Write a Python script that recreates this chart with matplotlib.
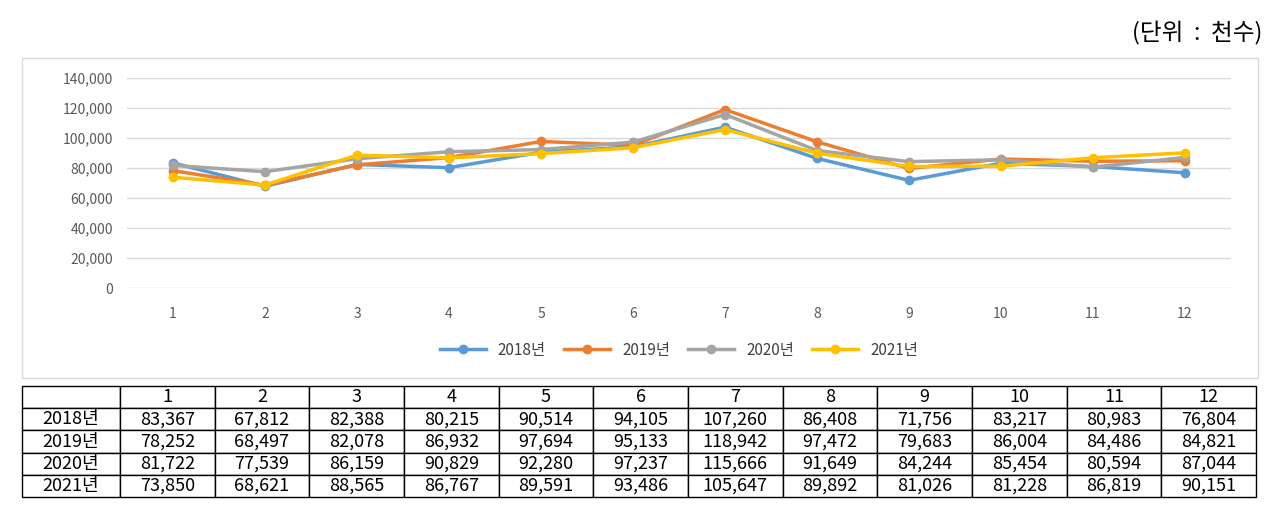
import matplotlib.pyplot as plt
from matplotlib.patches import Rectangle

plt.rcParams['font.family'] = ['Noto Sans CJK KR', 'DejaVu Sans']

months = [str(i) for i in range(1, 13)]
years = ['2018년', '2019년', '2020년', '2021년']
v2018 = [83367, 67812, 82388, 80215, 90514, 94105, 107260, 86408, 71756, 83217, 80983, 76804]
v2019 = [78252, 68497, 82078, 86932, 97694, 95133, 118942, 97472, 79683, 86004, 84486, 84821]
v2020 = [81722, 77539, 86159, 90829, 92280, 97237, 115666, 91649, 84244, 85454, 80594, 87044]
v2021 = [73850, 68621, 88565, 86767, 89591, 93486, 105647, 89892, 81026, 81228, 86819, 90151]
series = [v2018, v2019, v2020, v2021]
colors = ['#5B9BD5', '#ED7D31', '#A5A5A5', '#FFC000']

W, H = 1280, 508
fig = plt.figure(figsize=(12.8, 5.08), dpi=100)

# chart border box
fig.patches.append(Rectangle((22 / W, 1 - 378 / H), (1258 - 22) / W, (378 - 58) / H,
                             transform=fig.transFigure, fill=False, ec='#d9d9d9', lw=1))
fig.text(1262 / W, 1 - 33 / H, '(단위  :  천수)', ha='right', va='center', fontsize=17)

ax = fig.add_axes([127 / W, 1 - 288 / H, (1231 - 127) / W, (288 - 78) / H])
x = list(range(12))
for s, c, lab in zip(series, colors, years):
    ax.plot(x, s, color=c, lw=2.5, marker='o', ms=6, label=lab)
ax.set_xlim(-0.5, 11.5)
ax.set_ylim(0, 140000)
ax.set_yticks(range(0, 140001, 20000))
ax.set_yticklabels([f'{t:,}' for t in range(0, 140001, 20000)], fontsize=10, color='#595959')
ax.set_xticks(x)
ax.set_xticklabels(months, fontsize=10, color='#595959')
ax.tick_params(length=0, pad=10)
ax.tick_params(axis='x', pad=14)
ax.grid(axis='y', color='#d9d9d9', lw=1)
ax.set_axisbelow(True)
for sp in ax.spines.values():
    sp.set_visible(False)
ax.legend(loc='center', bbox_to_anchor=(0.5, (288 - 350) / 210), ncol=4, frameon=False,
          fontsize=11, handlelength=3, columnspacing=1.2, labelcolor='#404040')

# data table
tab_ax = fig.add_axes([22 / W, 1 - 497 / H, (1256 - 22) / W, (497 - 386) / H])
tab_ax.axis('off')
cells = [[''] + months] + [[y] + [f'{v:,}' for v in s] for y, s in zip(years, series)]
first_w = 98 / (1256 - 22)
col_w = (1 - first_w) / 12
tbl = tab_ax.table(cellText=cells, cellLoc='center', bbox=[0, 0, 1, 1],
                   colWidths=[first_w] + [col_w] * 12)
tbl.auto_set_font_size(False)
tbl.set_fontsize(13)
for (r, c), cell in tbl.get_celld().items():
    cell.set_linewidth(1)
    cell.set_edgecolor('black')
    if r > 0 and c > 0:
        cell._loc = 'right'
        cell.PAD = 0.08

fig.savefig('out.png', dpi=100)
